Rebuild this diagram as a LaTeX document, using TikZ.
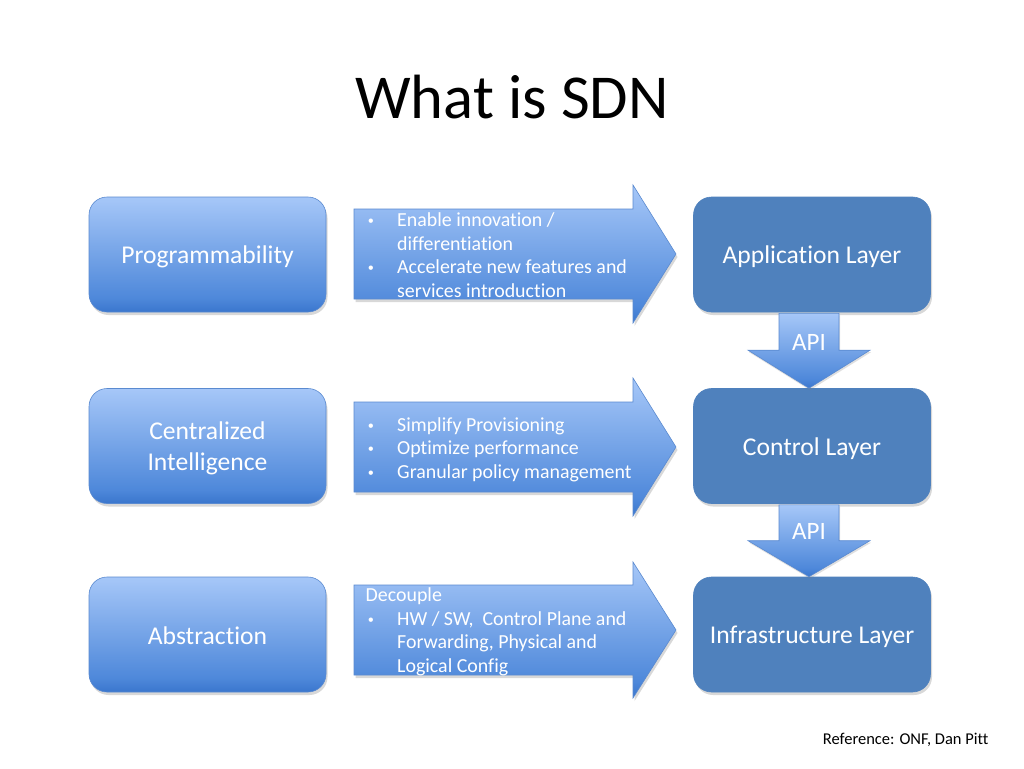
\documentclass[tikz,border=0pt]{standalone}
\usepackage{fontspec}
\setmainfont{Carlito}[Ligatures=NoCommon]
\newfontfamily\bulfont{Liberation Sans}
\usetikzlibrary{shadows,calc}
\definecolor{gtop}{RGB}{166,199,248}
\definecolor{gmid}{RGB}{78,136,218}
\definecolor{gbot}{RGB}{58,118,205}
\definecolor{rboxc}{RGB}{79,129,189}
\definecolor{edgec}{RGB}{90,138,208}
\pgfdeclareverticalshading{officegrad}{100bp}{color(0bp)=(gbot); color(25bp)=(gbot); color(31bp)=(gmid); color(75bp)=(gtop); color(100bp)=(gtop)}
\newcommand\bitem[1]{\par\hangindent=44pt\hangafter=1\noindent\hspace*{15pt}\makebox[29pt][l]{\bulfont\fontsize{16}{16}\selectfont\textbullet}#1}
\newcommand\lowr[1]{\raisebox{-2.5pt}[\height][\depth]{#1}}
\newcommand\arrtxt[1]{\begin{minipage}[t]{300pt}\raggedright #1\end{minipage}}
\tikzset{
  lbox/.style={rounded corners=18pt, minimum width=237pt, minimum height=115pt,
    shade, shading=officegrad, draw=edgec, line width=0.6pt, text=white,
    font=\fontsize{25.6}{31}\selectfont,
    drop shadow={opacity=0.3, shadow xshift=1.5pt, shadow yshift=-3pt}},
  rboxs/.style={rounded corners=18pt, minimum width=237pt, minimum height=115pt,
    fill=rboxc, draw=rboxc, line width=0.6pt, text=white,
    font=\fontsize{25.6}{31}\selectfont,
    drop shadow={opacity=0.3, shadow xshift=1.5pt, shadow yshift=-3pt}},
  bigarrow/.style={shade, shading=officegrad, draw=edgec, line width=0.6pt, line join=miter,
    drop shadow={opacity=0.3, shadow xshift=1.5pt, shadow yshift=-3pt}},
  apiarrow/.style={shade, shading=officegrad, draw=edgec, line width=0.6pt, line join=miter,
    drop shadow={opacity=0.25, shadow xshift=1pt, shadow yshift=-2pt}},
  atext/.style={text=white, inner sep=0pt,
    font=\fontsize{19.9}{23.5}\selectfont, anchor=base west},
  apitext/.style={text=white, font=\fontsize{25}{30}\selectfont, inner sep=0pt}
}
\begin{document}
\begin{tikzpicture}[x=1pt,y=-1pt]
\path[use as bounding box, fill=white] (0,0) rectangle (1024,768);

\node[anchor=base, font=\fontsize{62.5}{70}\selectfont] (title) at (512,118) {What is SDN};

\node[lbox] (prog) at (207.5,254.5) {\lowr{Programmability}};
\node[lbox] (cent) at (207.5,446) {\lowr{\begin{tabular}{@{}c@{}}Centralized\\Intelligence\end{tabular}}};
\node[lbox] (abst) at (207.5,634.5) {\raisebox{-1pt}[\height][\depth]{Abstraction}};

\node[rboxs] (app) at (812,254.5) {\lowr{Application Layer}};
\node[rboxs] (ctl) at (812,446) {\lowr{Control Layer}};
\node[rboxs] (inf) at (812,634.5) {\lowr{Infrastructure Layer}};

\path[bigarrow] (354,209) -- (633,209) -- (633,185) -- (676,254) -- (633,323) -- (633,299) -- (354,299) -- cycle;
\path[bigarrow] (354,402) -- (633,402) -- (633,378) -- (676,447) -- (633,516) -- (633,492) -- (354,492) -- cycle;
\path[bigarrow] (354,585) -- (633,585) -- (633,562) -- (676,630) -- (633,698) -- (633,675) -- (354,675) -- cycle;

\node[atext] (t1) at (353,226.5) {\arrtxt{\bitem{Enable innovation /\newline differentiation}\bitem{Accelerate new features and\newline services introduction}}};
\node[atext] (t2) at (353,431) {\arrtxt{\bitem{Simplify Provisioning}\bitem{Optimize performance}\bitem{Granular policy management}}};
\node[atext] (t3) at (353,601.5) {\arrtxt{\noindent\hspace*{12.5pt}Decouple\bitem{HW / SW,~ Control Plane and\newline Forwarding, Physical and\newline Logical Config}}};

\coordinate (p1) at ($(app.south)+(-3,1)$);
\coordinate (q1) at ($(ctl.north)+(-3,0)$);
\path[apiarrow] ($(p1)+(-30,0)$) -- ($(p1)+(30,0)$) -- ($(q1)+(30,-38)$) -- ($(q1)+(61,-38)$) -- (q1) -- ($(q1)+(-61,-38)$) -- ($(q1)+(-30,-38)$) -- cycle;
\node[apitext] (api1) at ($(p1)+(0,29)$) {API};

\coordinate (p2) at ($(ctl.south)+(-3,1)$);
\coordinate (q2) at ($(inf.north)+(-3,0)$);
\path[apiarrow] ($(p2)+(-30,0)$) -- ($(p2)+(30,0)$) -- ($(q2)+(30,-36)$) -- ($(q2)+(61,-36)$) -- (q2) -- ($(q2)+(-61,-36)$) -- ($(q2)+(-30,-36)$) -- cycle;
\node[apitext] (api2) at ($(p2)+(0,27)$) {API};

\node[anchor=base east, font=\fontsize{16.5}{19}\selectfont] (ref) at (992,744) {Reference: ONF, Dan Pitt};
\end{tikzpicture}
\end{document}
